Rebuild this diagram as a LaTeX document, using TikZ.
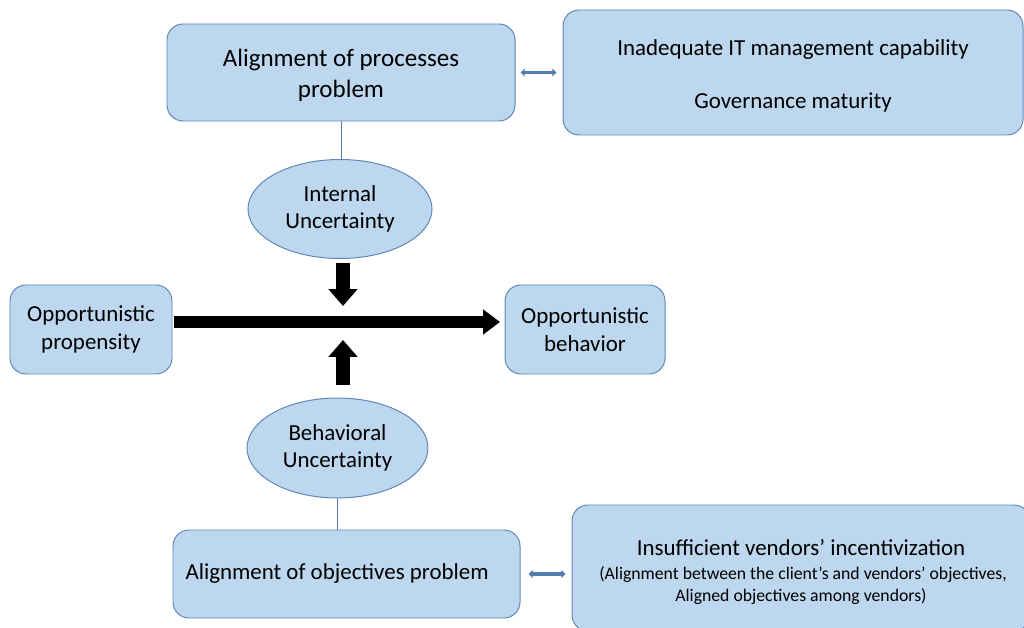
\documentclass[tikz,border=0pt]{standalone}
\usepackage{fontspec}
\setmainfont{Carlito}
\usetikzlibrary{arrows.meta,shapes.geometric}
\definecolor{boxfill}{RGB}{189,215,238}
\definecolor{boxline}{RGB}{96,134,180}
\definecolor{linkblue}{RGB}{84,126,176}
\tikzset{
  roundbox/.style={draw=boxline, fill=boxfill, line width=0.7pt, rounded corners=0.4cm, align=center, inner sep=0pt},
  ovalbox/.style={draw=boxline, fill=boxfill, line width=0.7pt, ellipse, align=center, inner sep=0pt},
  biglink/.style={line width=10pt, -{Triangle[length=0.42cm, width=0.7cm]}},
  smalllink/.style={linkblue, line width=2.4pt, {Triangle[length=3pt, width=5.5pt]}-{Triangle[length=3pt, width=5.5pt]}},
  thinlink/.style={linkblue, line width=0.7pt},
  mainfont/.style={font=\fontsize{16.3}{19.5}\selectfont}
}
\begin{document}
\begin{tikzpicture}[x=0.025cm, y=-0.025cm]
    \useasboundingbox (0,0) rectangle (1024,628);
    \node[roundbox, minimum width=348*0.025cm, minimum height=97*0.025cm, font=\fontsize{17.8}{21.5}\selectfont] (proc) at (341,72.5) {\rule{0pt}{16.5pt}Alignment of processes\\problem};
    \node[roundbox, minimum width=460*0.025cm, minimum height=125*0.025cm, mainfont] (itcap) at (793,72.5) {\rule{0pt}{16pt}Inadequate IT management capability\\[0.64cm]Governance maturity};
    \node[ovalbox, minimum width=184*0.025cm, minimum height=99*0.025cm, mainfont] (intunc) at (340,209) {Internal\\Uncertainty};
    \node[roundbox, minimum width=162*0.025cm, minimum height=89*0.025cm, mainfont] (prop) at (91,329.5) {Opportunistic\\propensity};
    \node[roundbox, minimum width=160*0.025cm, minimum height=89*0.025cm, mainfont] (behav) at (585,329.5) {Opportunistic\\behavior};
    \node[ovalbox, minimum width=181*0.025cm, minimum height=100*0.025cm, mainfont] (behunc) at (337.5,448) {Behavioral\\Uncertainty};
    \node[roundbox, minimum width=347*0.025cm, minimum height=88*0.025cm, text width=322*0.025cm, align=flush left, mainfont] (obj) at (346.5,574) {Alignment of objectives problem};
    \node[roundbox, minimum width=458*0.025cm, minimum height=126*0.025cm, font=\fontsize{12.6}{15.6}\selectfont] (incent) at (801,568) {\rule{0pt}{17.5pt}{\fontsize{16.3}{19}\selectfont Insufficient vendors’ incentivization}\\[1.5pt]
      \ (Alignment between the client’s and vendors’ objectives,\\
      Aligned objectives among vendors)};
    \coordinate (downstart) at (343,263);
    \coordinate (downend) at (343,306);
    \coordinate (upstart) at (343,385);
    \coordinate (upend) at (343,340);
    \coordinate (mainstart) at (174,322);
    \coordinate (mainend) at (500,322);
    % connectors
    \draw[thinlink] (proc.south) -- (proc.south |- intunc.north);
    \draw[thinlink] (behunc.south) -- (behunc.south |- obj.north);
    \draw[smalllink, shorten <=5*0.025cm, shorten >=6*0.025cm] (proc.east) -- (itcap.west);
    \draw[smalllink, shorten <=8*0.025cm, shorten >=6*0.025cm] (obj.east) -- (obj.east -| incent.west);
    \draw[biglink, line width=8.5pt, -{Triangle[length=0.42cm, width=0.6cm]}] (mainstart) -- (mainend);
    \draw[biglink] (downstart) -- (downend);
    \draw[biglink] (upstart) -- (upend);
\end{tikzpicture}
\end{document}
